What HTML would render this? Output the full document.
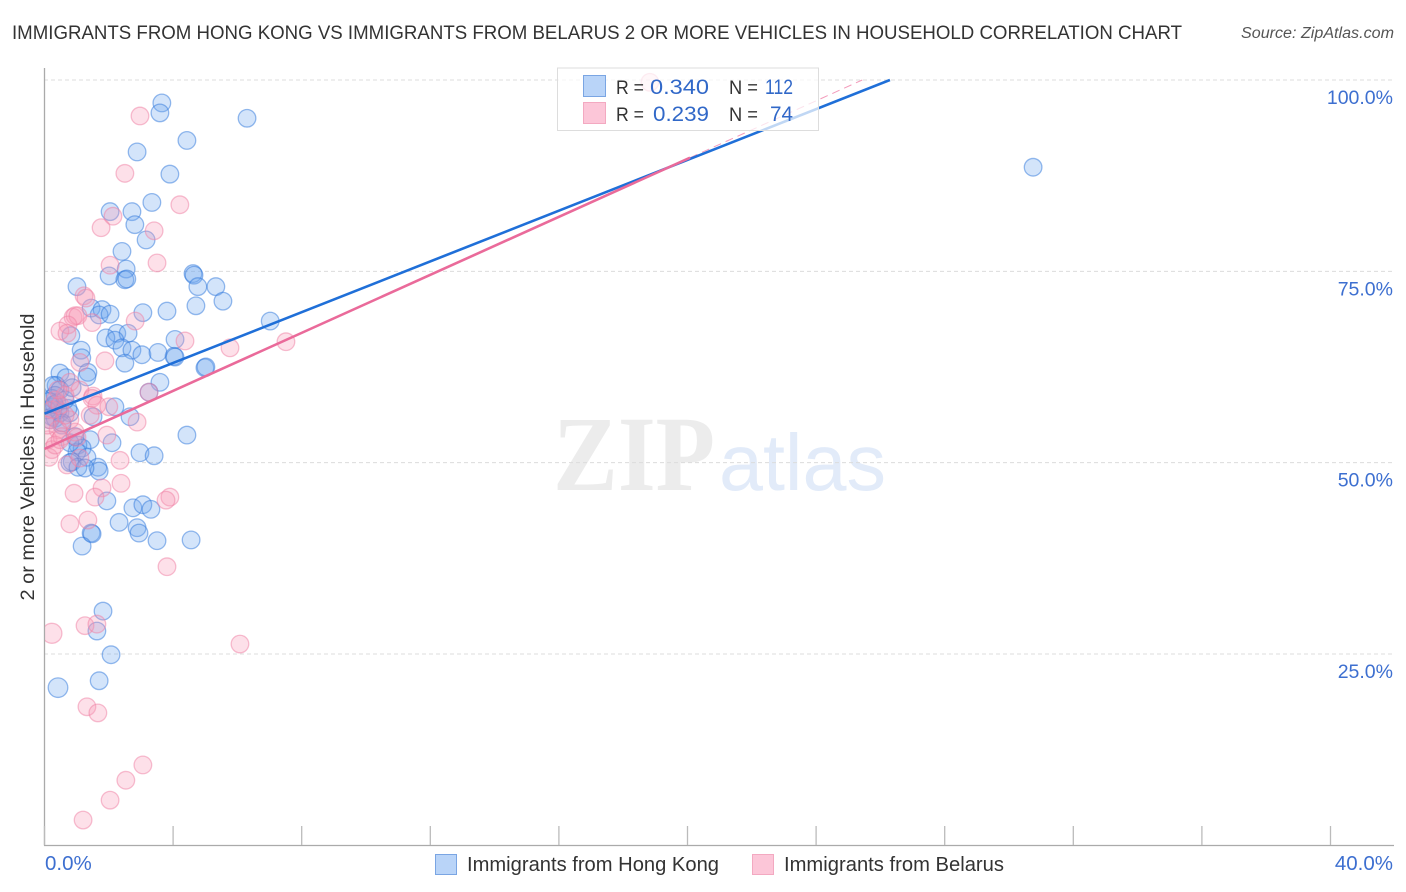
<!DOCTYPE html>
<html lang="en">
<head>
<meta charset="utf-8">
<title>Immigrants from Hong Kong vs Immigrants from Belarus correlation chart</title>
<style>
html,body{margin:0;padding:0;background:#fff;width:1406px;height:892px;overflow:hidden}
svg{display:block;font-family:"Liberation Sans",sans-serif}
</style>
</head>
<body>
<svg id="chart" xmlns="http://www.w3.org/2000/svg" width="1406" height="892" viewBox="0 0 1406 892">
  <defs>
    <clipPath id="plot-clip"><rect x="45" y="68" width="1349" height="777"/></clipPath>
  </defs>
  <text x="12" y="39" font-size="19.5" fill="#333" textLength="1170" lengthAdjust="spacingAndGlyphs">IMMIGRANTS FROM HONG KONG VS IMMIGRANTS FROM BELARUS 2 OR MORE VEHICLES IN HOUSEHOLD CORRELATION CHART</text>
  <text x="1241" y="38" font-size="15.5" font-style="italic" fill="#555" textLength="153" lengthAdjust="spacingAndGlyphs">Source: ZipAtlas.com</text>
  <g>
    <text x="553" y="490" font-family="'Liberation Serif',serif" font-weight="700" font-size="107" fill="#ececec" textLength="162" lengthAdjust="spacingAndGlyphs">ZIP</text>
    <text x="719" y="490" font-size="80" fill="#e2ebf9" textLength="167" lengthAdjust="spacingAndGlyphs">atlas</text>
  </g>
  <g id="grid"></g>
  <g id="axes"></g>
  <g id="blue-points" clip-path="url(#plot-clip)"></g>
  <g id="pink-points" clip-path="url(#plot-clip)"></g>
  <g id="trends"></g>
  <text transform="translate(34 457) rotate(-90)" text-anchor="middle" font-size="19.5" fill="#333" textLength="287" lengthAdjust="spacingAndGlyphs">2 or more Vehicles in Household</text>

  <g>
    <rect x="557.5" y="68" width="261" height="62.5" fill="#fff" fill-opacity="0.72" stroke="#ddd" stroke-width="1"/>
    <rect x="583.5" y="75.5" width="22" height="21" fill="#b9d4f8" stroke="#7aa5e3"/>
    <rect x="583.5" y="102.5" width="22" height="21" fill="#fcc6d8" stroke="#f3a9c1"/>
    <g font-size="19" fill="#333">
      <text x="616" y="94" textLength="28" lengthAdjust="spacingAndGlyphs">R =</text>
      <text x="729" y="94" textLength="29" lengthAdjust="spacingAndGlyphs">N =</text>
      <text x="616" y="121" textLength="28" lengthAdjust="spacingAndGlyphs">R =</text>
      <text x="729" y="121" textLength="29" lengthAdjust="spacingAndGlyphs">N =</text>
    </g>
    <g font-size="21" fill="#3168c8">
      <text x="650" y="94" textLength="59" lengthAdjust="spacingAndGlyphs">0.340</text>
      <text x="765" y="94" textLength="28" lengthAdjust="spacingAndGlyphs">112</text>
      <text x="653" y="121" textLength="56" lengthAdjust="spacingAndGlyphs">0.239</text>
      <text x="770" y="121" textLength="23" lengthAdjust="spacingAndGlyphs">74</text>
    </g>
  </g>

  <g>
    <rect x="435.5" y="854.5" width="21" height="20" fill="#b9d4f8" stroke="#7aa5e3"/>
    <text x="467" y="871" font-size="20" fill="#333" textLength="252" lengthAdjust="spacingAndGlyphs">Immigrants from Hong Kong</text>
    <rect x="752.5" y="854.5" width="21" height="20" fill="#fcc6d8" stroke="#f3a9c1"/>
    <text x="784" y="871" font-size="20" fill="#333" textLength="220" lengthAdjust="spacingAndGlyphs">Immigrants from Belarus</text>
  </g>
</svg>
<script>
const yTicks = [25, 50, 75, 100];
const yTickLabels = ["25.0%", "50.0%", "75.0%", "100.0%"];
const xTicks = [0, 4, 8, 12, 16, 20, 24, 28, 32, 36, 40];
const xEndLabels = ["0.0%", "40.0%"];

const hongKongX = [30.75,6.30,3.65,3.59,4.43,2.88,3.90,3.34,2.04,2.72,2.81,3.16,2.41,2.54,2.01,2.50,2.56,4.62,4.65,4.77,5.33,5.55,4.71,1.01,1.45,1.79,1.70,2.04,3.06,3.81,7.02,2.25,2.60,1.91,2.19,0.82,4.06,2.41,2.72,1.14,1.16,3.03,3.53,4.03,4.06,2.50,4.99,5.02,1.35,1.32,0.48,0.67,3.59,0.36,0.26,0.48,0.23,0.26,0.39,0.23,0.33,0.48,0.79,0.73,1.51,2.19,2.66,3.25,2.10,1.42,1.04,1.17,1.01,0.79,0.86,0.79,1.32,1.66,1.70,1.04,1.26,4.43,2.97,3.41,2.75,3.06,3.31,1.94,2.32,2.88,2.94,3.50,4.56,1.45,1.48,1.17,1.82,1.63,2.07,1.70,0.42,0.33,0.42,0.08,0.17,0.64,0.54,0.86,0.95,0.30,0.55,0.15];
const hongKongY = [88.6,95.0,97.0,95.7,92.1,90.6,87.7,84.0,82.8,82.8,81.1,79.1,77.6,75.3,74.4,73.9,74.0,74.7,74.5,73.0,73.0,71.1,70.5,73.0,70.2,70.0,69.3,69.4,69.6,69.8,68.5,66.9,66.9,66.3,66.0,66.6,66.1,65.0,64.7,64.7,63.7,64.1,64.4,63.9,63.8,63.0,62.4,62.5,61.8,61.2,61.7,61.1,60.5,60.1,60.1,59.5,58.4,57.3,57.8,56.0,55.8,56.5,56.5,57.1,56.0,57.3,56.0,59.2,52.6,53.0,52.3,51.9,51.4,52.6,50.1,50.0,50.7,49.4,48.9,49.4,49.3,53.6,51.3,50.9,44.1,44.5,43.9,45.0,42.2,41.5,40.8,39.8,39.9,40.8,40.7,39.1,30.6,28.0,24.9,21.5,20.6,58.8,56.9,56.9,55.6,58.2,54.9,59.8,53.4,57.6,55.2,58.0];
const hongKongLargeIndex = [100];

const belarusX = [18.83,2.97,2.50,4.21,2.13,1.76,3.41,3.50,2.04,1.23,1.29,2.82,0.89,0.95,1.04,1.48,0.73,0.48,0.70,4.37,5.77,7.51,1.88,1.10,3.25,0.79,1.10,1.51,1.48,1.63,2.00,1.42,2.88,1.94,2.35,2.38,1.79,1.57,0.92,3.90,3.78,1.35,0.79,3.81,6.08,0.23,1.26,1.63,1.32,1.66,3.06,2.53,2.04,1.20,0.23,0.33,0.17,0.42,0.11,0.23,0.14,0.54,0.70,0.95,0.64,0.48,0.79,0.33,0.64,0.42,0.48,1.10,0.08,1.01];
const belarusY = [99.7,95.3,87.8,83.7,82.2,80.7,80.3,76.1,75.8,71.8,71.5,68.5,69.0,69.2,69.2,68.3,68.0,67.2,66.9,65.9,65.0,65.8,63.3,63.1,59.2,60.5,59.5,58.7,58.4,57.5,57.3,56.2,55.3,53.6,50.3,47.3,46.7,45.5,46.0,45.5,45.1,42.5,42.0,36.4,26.3,27.7,28.7,28.9,18.1,17.3,10.5,8.5,5.9,3.3,56.9,58.2,55.6,54.3,53.0,51.7,50.7,53.4,49.7,54.0,58.8,57.5,55.6,52.3,56.2,59.5,53.0,50.6,54.9,53.3];
const belarusLargeIndex = [45];

const hongKongTrend = { intercept: 56.4, slope: 1.658 };
const belarusTrend = { intercept: 51.8, slope: 1.895, solidUntil: 20.08 };

const NS = "http://www.w3.org/2000/svg";
const xScale = v => 44.5 + v * 32.15;
const yScale = v => 845.3 - v * 7.653;

function mk(parent, tag, attrs) {
  const el = document.createElementNS(NS, tag);
  for (const k in attrs) el.setAttribute(k, attrs[k]);
  parent.appendChild(el);
  return el;
}

const grid = document.getElementById("grid");
const axes = document.getElementById("axes");

yTicks.forEach((t, i) => {
  const line = mk(grid, "line", {x1: 44, x2: 1394, y1: yScale(t), y2: yScale(t), stroke: "#dcdcdc", "stroke-width": 1, "stroke-dasharray": "4 3"});
  
  
  const label = mk(axes, "text", {x: 1393, y: yScale(t) + 24, "text-anchor": "end", "font-size": 19.5, fill: "#3d6fd0"});
  label.textContent = yTickLabels[i];
  
  
});

const yAxis = mk(axes, "line", {x1: 44.5, x2: 44.5, y1: 68, y2: 845.5, stroke: "#aaa", "stroke-width": 1.3});


const xAxis = mk(axes, "line", {x1: 44, x2: 1394, y1: 845.5, y2: 845.5, stroke: "#aaa", "stroke-width": 1.3});



xTicks.forEach(t => {
  const tick = mk(axes, "line", {x1: xScale(t), x2: xScale(t), y1: 826, y2: 845, stroke: "#bbb", "stroke-width": 1.3});
  
  
});

const xLeft = mk(axes, "text", {x: 45, y: 870, "font-size": 20.5, fill: "#3d6fd0"});
xLeft.textContent = xEndLabels[0];


const xRight = mk(axes, "text", {x: 1393, y: 870, "font-size": 20.5, fill: "#3d6fd0", "text-anchor": "end"});
xRight.textContent = xEndLabels[1];



const bluePoints = document.getElementById("blue-points");
hongKongX.forEach((x, i) => {
  const c = mk(bluePoints, "circle", {cx: xScale(x), cy: yScale(hongKongY[i]), r: hongKongLargeIndex.includes(i) ? 9.8 : 8.8, fill: "#6ea6ee", "fill-opacity": 0.3, stroke: "#2f78dc", "stroke-opacity": 0.5, "stroke-width": 1.3});
  
  
});

const pinkPoints = document.getElementById("pink-points");
belarusX.forEach((x, i) => {
  const c = mk(pinkPoints, "circle", {cx: xScale(x), cy: yScale(belarusY[i]), r: belarusLargeIndex.includes(i) ? 10 : 8.8, fill: "#f998b6", "fill-opacity": 0.3, stroke: "#f07fa4", "stroke-opacity": 0.5, "stroke-width": 1.3});
  
  
});

const trends = document.getElementById("trends");
const blueEnd = (100 - hongKongTrend.intercept) / hongKongTrend.slope;
const pinkEnd = (100 - belarusTrend.intercept) / belarusTrend.slope;

const pinkDash = mk(trends, "line", {x1: xScale(belarusTrend.solidUntil), y1: yScale(belarusTrend.intercept + belarusTrend.slope * belarusTrend.solidUntil), x2: xScale(pinkEnd), y2: yScale(100), stroke: "#ee6f9c", "stroke-width": 1, "stroke-dasharray": "8 5", "stroke-opacity": 0.7});


const blueLine = mk(trends, "line", {x1: xScale(0), y1: yScale(hongKongTrend.intercept), x2: xScale(blueEnd), y2: yScale(100), stroke: "#1f6fd8", "stroke-width": 2.6});


const pinkLine = mk(trends, "line", {x1: xScale(0), y1: yScale(belarusTrend.intercept), x2: xScale(belarusTrend.solidUntil), y2: yScale(belarusTrend.intercept + belarusTrend.slope * belarusTrend.solidUntil), stroke: "#ea6a9a", "stroke-width": 2.6});


</script>
</body>
</html>
